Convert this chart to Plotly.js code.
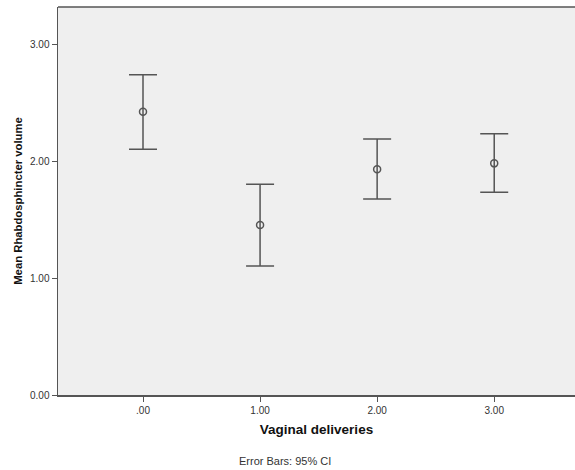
<!DOCTYPE html>
<html>
<head>
<meta charset="utf-8">
<script src="https://cdn.plot.ly/plotly-3.0.1.min.js"></script>
<style>html,body{margin:0;padding:0;background:#fff;}#chart{width:575px;height:470px;}</style>
</head>
<body>
<div id="chart"></div>
<script>
const categories = [0, 1, 2, 3];
const tickLabels = ['.00', '1.00', '2.00', '3.00'];
const means = [2.428, 1.457, 1.934, 1.985];
const upperCI = [2.745, 1.805, 2.194, 2.239];
const lowerCI = [2.105, 1.105, 1.680, 1.737];
const yTickVals = [0, 1, 2, 3];
const yTickText = ['0.00', '1.00', '2.00', '3.00'];

const frame = '#555555';
const trace = {
  type: 'scatter',
  mode: 'markers',
  x: categories,
  y: means,
  marker: {symbol: 'circle-open', size: 7, color: frame, line: {width: 1.5, color: frame}},
  error_y: {
    type: 'data',
    symmetric: false,
    array: upperCI.map((u, i) => u - means[i]),
    arrayminus: means.map((m, i) => m - lowerCI[i]),
    color: frame,
    thickness: 1.5,
    width: 14
  },
  hoverinfo: 'skip',
  showlegend: false
};

const layout = {
  width: 575, height: 470,
  margin: {l: 58, r: 0, t: 7, b: 75},
  paper_bgcolor: '#ffffff',
  plot_bgcolor: '#efefef',
  font: {family: 'Liberation Sans, Arial, sans-serif', color: '#333'},
  xaxis: {
    range: [-0.726, 3.69],
    tickvals: categories,
    ticktext: tickLabels,
    ticks: 'outside', ticklen: 5, tickcolor: frame, tickwidth: 1,
    tickfont: {size: 10, color: '#333'},
    showgrid: false, zeroline: false,
    showline: true, linecolor: frame, linewidth: 1.5,
    title: {text: 'Vaginal deliveries', font: {size: 13.5, color: '#111', family: 'Liberation Sans, Arial, sans-serif', weight: 'bold'}, standoff: 10}
  },
  yaxis: {
    range: [0, 3.325],
    tickvals: yTickVals,
    ticktext: yTickText,
    ticks: 'outside', ticklen: 5, tickcolor: frame, tickwidth: 1,
    tickfont: {size: 10, color: '#333'},
    showgrid: false, zeroline: false,
    showline: true, linecolor: frame, linewidth: 1.5,
    title: {text: 'Mean Rhabdosphincter volume', font: {size: 11.3, color: '#111', family: 'Liberation Sans, Arial, sans-serif', weight: 'bold'}, standoff: 5}
  },
  shapes: [{
    type: 'line', xref: 'paper', yref: 'paper', x0: 0, x1: 1, y0: 1, y1: 1,
    line: {color: frame, width: 1.5}
  }],
  annotations: [{
    text: 'Error Bars: 95% CI', xref: 'paper', yref: 'paper',
    x: 0.439, y: -0.17, xanchor: 'center', yanchor: 'middle',
    showarrow: false, font: {size: 11, color: '#333'}
  }]
};

Plotly.newPlot('chart', [trace], layout, {displayModeBar: false, staticPlot: true});
</script>
</body>
</html>
